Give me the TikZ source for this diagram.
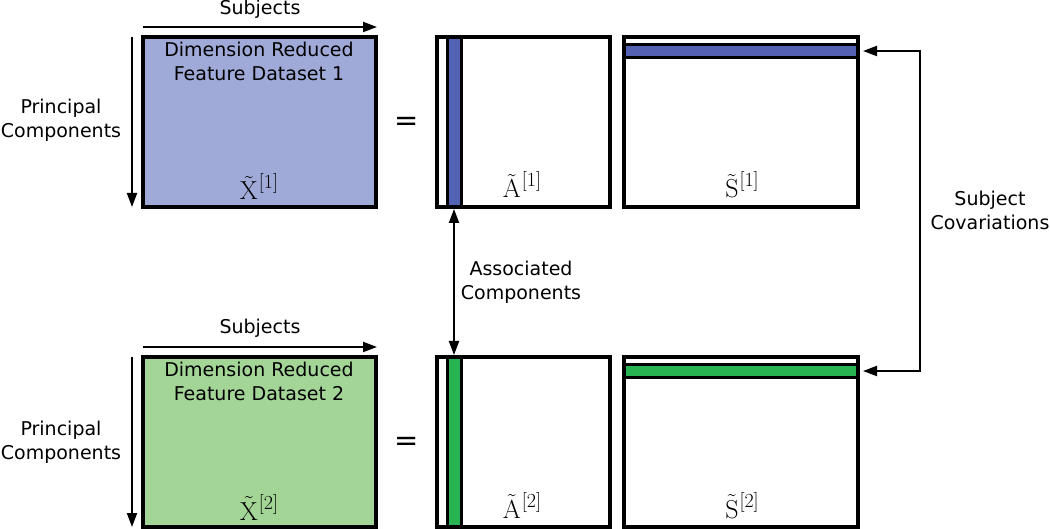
\RequirePackage{fix-cm}
\documentclass[tikz,border=0pt]{standalone}
\usepackage[no-math]{fontspec}
\setmainfont{DejaVu Sans}
\newfontfamily\lmrom{Latin Modern Roman}
\usetikzlibrary{arrows.meta,calc}
\definecolor{xblue}{RGB}{160,170,216}
\definecolor{bblue}{RGB}{84,98,180}
\definecolor{xgreen}{RGB}{163,214,150}
\definecolor{bgreen}{RGB}{40,180,80}
\newcommand{\mlab}[2]{$\tilde{\mathrm{#1}}$\kern1pt\raisebox{11pt}{\fontsize{20}{20}\lmrom [#2]}}
\begin{document}
\begin{tikzpicture}[x=1pt,y=-1pt,
  mat/.style={draw,line width=3.5pt,anchor=north west,inner sep=0pt,outer sep=0pt},
  arr/.style={line width=2pt,-{Triangle[length=14pt,width=10pt]}},
  darr/.style={line width=2pt,{Triangle[length=14pt,width=10pt]}-{Triangle[length=14pt,width=10pt]}},
  lbl/.style={font=\fontsize{19}{24}\selectfont,align=center,inner sep=0pt},
  mlbl/.style={font=\fontsize{26}{30}\selectfont,inner sep=0pt,anchor=base},
  eqs/.style={font=\fontsize{29}{29}\selectfont,inner sep=0pt},
  band/.style={line width=3pt}
]
\useasboundingbox (0,0) rectangle (1050,529);

% ---------- Row 1 ----------
\node[mat,fill=xblue,minimum width=233pt,minimum height=170pt] (X1) at (143,37) {};
\node[lbl] (X1t) at (259,61) {Dimension Reduced\\Feature Dataset 1};
\node[mlbl] (X1l) at (259,200) {\mlab{X}{1}};

\node[mat,minimum width=173pt,minimum height=170pt] (A1) at (437,37) {};
\fill[bblue] ($(A1.north west)+(10,0)$) rectangle ($(A1.south west)+(24,0)$);
\draw[band] ($(A1.north west)+(10,0)$) -- ($(A1.south west)+(10,0)$);
\draw[band] ($(A1.north west)+(24,0)$) -- ($(A1.south west)+(24,0)$);
\draw[line width=3.5pt] (A1.north west) rectangle (A1.south east);
\node[mlbl] (A1l) at (522,198) {\mlab{A}{1}};

\node[mat,minimum width=234pt,minimum height=170pt] (S1) at (624,37) {};
\fill[bblue] ($(S1.north west)+(0,8)$) rectangle ($(S1.north east)+(0,21)$);
\draw[band] ($(S1.north west)+(0,8)$) -- ($(S1.north east)+(0,8)$);
\draw[band] ($(S1.north west)+(0,21)$) -- ($(S1.north east)+(0,21)$);
\draw[line width=3.5pt] (S1.north west) rectangle (S1.south east);
\node[mlbl] (S1l) at (742,198) {\mlab{S}{1}};

\node[eqs] (eq1) at (407,124) {=};

\coordinate (s1a) at (143,27);
\coordinate (s1b) at (377,27);
\draw[arr] (s1a) -- (s1b);
\node[lbl] (sub1) at (260,9) {Subjects};
\coordinate (p1a) at (132,37);
\coordinate (p1b) at (132,207);
\draw[arr] (p1a) -- (p1b);
\node[lbl] (pc1) at (61,120) {Principal\\Components};

% ---------- Row 2 ----------
\node[mat,fill=xgreen,minimum width=233pt,minimum height=170pt] (X2) at (143,357) {};
\node[lbl] (X2t) at (259,381) {Dimension Reduced\\Feature Dataset 2};
\node[mlbl] (X2l) at (259,520) {\mlab{X}{2}};

\node[mat,minimum width=173pt,minimum height=170pt] (A2) at (437,357) {};
\fill[bgreen] ($(A2.north west)+(10,0)$) rectangle ($(A2.south west)+(24,0)$);
\draw[band] ($(A2.north west)+(10,0)$) -- ($(A2.south west)+(10,0)$);
\draw[band] ($(A2.north west)+(24,0)$) -- ($(A2.south west)+(24,0)$);
\draw[line width=3.5pt] (A2.north west) rectangle (A2.south east);
\node[mlbl] (A2l) at (522,518) {\mlab{A}{2}};

\node[mat,minimum width=234pt,minimum height=170pt] (S2) at (624,357) {};
\fill[bgreen] ($(S2.north west)+(0,8)$) rectangle ($(S2.north east)+(0,21)$);
\draw[band] ($(S2.north west)+(0,8)$) -- ($(S2.north east)+(0,8)$);
\draw[band] ($(S2.north west)+(0,21)$) -- ($(S2.north east)+(0,21)$);
\draw[line width=3.5pt] (S2.north west) rectangle (S2.south east);
\node[mlbl] (S2l) at (742,518) {\mlab{S}{2}};

\node[eqs] (eq2) at (407,444) {=};

\coordinate (s2a) at (143,347);
\coordinate (s2b) at (377,347);
\draw[arr] (s2a) -- (s2b);
\node[lbl] (sub2) at (260,328) {Subjects};
\coordinate (p2a) at (132,357);
\coordinate (p2b) at (132,527);
\draw[arr] (p2a) -- (p2b);
\node[lbl] (pc2) at (61,442) {Principal\\Components};

% ---------- Connectors ----------
\draw[darr] ($(A1.south west)+(17,2)$) -- ($(A2.north west)+(17,-2)$);
\node[lbl] (assoc) at (521,282) {Associated\\Components};

\coordinate (c1) at ($(S1.north east)+(5,14)$);
\coordinate (c2) at ($(S2.north east)+(5,14)$);
\coordinate (cv) at (920,210);
\draw[darr] (c1) -- (c1 -| cv) -- (c2 -| cv) -- (c2);
\node[lbl] (cov) at (990,210) {Subject\\Covariations};
\end{tikzpicture}
\end{document}
